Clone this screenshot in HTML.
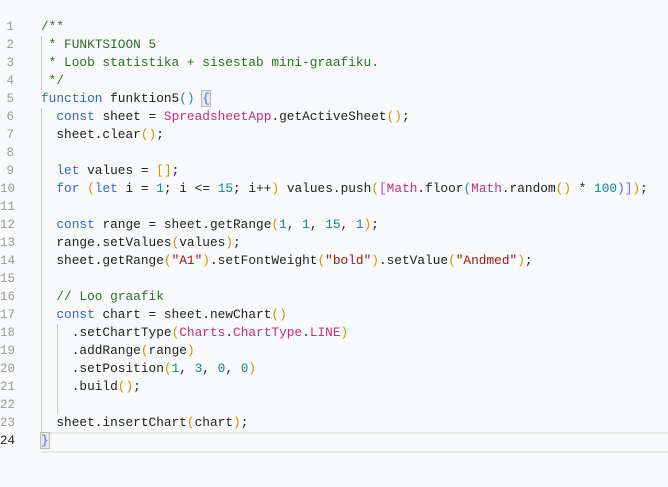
<!DOCTYPE html>
<html><head><meta charset="utf-8"><style>
html,body{margin:0;padding:0;background:#f8f9fa;width:668px;height:487px;overflow:hidden}
.ed{position:relative;font-family:"Liberation Mono",monospace;font-size:12.8px;color:#212121}
.l{position:absolute;left:0;height:18px;line-height:18px;white-space:pre}
.n{position:absolute;left:0;width:14px;text-align:right;color:#9a9a9a;font-size:12.5px}
.c{position:absolute;left:41px}
.cm{color:#2f6b2a}.k{color:#3367c7}.m{color:#c2307d}.s{color:#a31515}.num{color:#0b8a8a}
.b1{color:#c49a00}.b2{color:#a34fc0}.b3{color:#3b73e0}
.g{position:absolute;width:1px;background:#c8c8c8}
.cur{position:absolute;left:41px;right:0;top:432px;height:17px;border-top:2px solid #e8e8e8;border-bottom:2px solid #e8e8e8}
.bm{outline:1px solid #b9b9b9;background:#e8e8e8}
</style></head><body><div class="ed">
<div class="cur"></div>
<div class="g" style="left:41px;top:36px;height:54px"></div>
<div class="g" style="left:41px;top:108px;height:324px"></div>
<div class="g" style="left:57px;top:324px;height:90px"></div>
<div class="l" style="top:18px"><span class="n">1</span><span class="c cm">/**</span></div>
<div class="l" style="top:36px"><span class="n">2</span><span class="c cm"> * FUNKTSIOON 5</span></div>
<div class="l" style="top:54px"><span class="n">3</span><span class="c cm"> * Loob statistika + sisestab mini-graafiku.</span></div>
<div class="l" style="top:72px"><span class="n">4</span><span class="c cm"> */</span></div>
<div class="l" style="top:90px"><span class="n">5</span><span class="c"><span class="k">function</span> funktion5<span class="b3">()</span> <span class="b3 bm">{</span></span></div>
<div class="l" style="top:108px"><span class="n">6</span><span class="c">  <span class="k">const</span> sheet = <span class="m">SpreadsheetApp</span>.getActiveSheet<span class="b1">()</span>;</span></div>
<div class="l" style="top:126px"><span class="n">7</span><span class="c">  sheet.clear<span class="b1">()</span>;</span></div>
<div class="l" style="top:144px"><span class="n">8</span></div>
<div class="l" style="top:162px"><span class="n">9</span><span class="c">  <span class="k">let</span> values = <span class="b1">[]</span>;</span></div>
<div class="l" style="top:180px"><span class="n">10</span><span class="c">  <span class="k">for</span> <span class="b1">(</span><span class="k">let</span> i = <span class="num">1</span>; i &lt;= <span class="num">15</span>; i++<span class="b1">)</span> values.push<span class="b1">(</span><span class="b2">[</span><span class="m">Math</span>.floor<span class="b3">(</span><span class="m">Math</span>.random<span class="b1">()</span> * <span class="num">100</span><span class="b3">)</span><span class="b2">]</span><span class="b1">)</span>;</span></div>
<div class="l" style="top:198px"><span class="n">11</span></div>
<div class="l" style="top:216px"><span class="n">12</span><span class="c">  <span class="k">const</span> range = sheet.getRange<span class="b1">(</span><span class="num">1</span>, <span class="num">1</span>, <span class="num">15</span>, <span class="num">1</span><span class="b1">)</span>;</span></div>
<div class="l" style="top:234px"><span class="n">13</span><span class="c">  range.setValues<span class="b1">(</span>values<span class="b1">)</span>;</span></div>
<div class="l" style="top:252px"><span class="n">14</span><span class="c">  sheet.getRange<span class="b1">(</span><span class="s">"A1"</span><span class="b1">)</span>.setFontWeight<span class="b1">(</span><span class="s">"bold"</span><span class="b1">)</span>.setValue<span class="b1">(</span><span class="s">"Andmed"</span><span class="b1">)</span>;</span></div>
<div class="l" style="top:270px"><span class="n">15</span></div>
<div class="l" style="top:288px"><span class="n">16</span><span class="c">  <span class="cm">// Loo graafik</span></span></div>
<div class="l" style="top:306px"><span class="n">17</span><span class="c">  <span class="k">const</span> chart = sheet.newChart<span class="b1">()</span></span></div>
<div class="l" style="top:324px"><span class="n">18</span><span class="c">    .setChartType<span class="b1">(</span><span class="m">Charts</span>.<span class="m">ChartType</span>.<span class="m">LINE</span><span class="b1">)</span></span></div>
<div class="l" style="top:342px"><span class="n">19</span><span class="c">    .addRange<span class="b1">(</span>range<span class="b1">)</span></span></div>
<div class="l" style="top:360px"><span class="n">20</span><span class="c">    .setPosition<span class="b1">(</span><span class="num">1</span>, <span class="num">3</span>, <span class="num">0</span>, <span class="num">0</span><span class="b1">)</span></span></div>
<div class="l" style="top:378px"><span class="n">21</span><span class="c">    .build<span class="b1">()</span>;</span></div>
<div class="l" style="top:396px"><span class="n">22</span></div>
<div class="l" style="top:414px"><span class="n">23</span><span class="c">  sheet.insertChart<span class="b1">(</span>chart<span class="b1">)</span>;</span></div>
<div class="l" style="top:432px"><span class="n" style="color:#222">24</span><span class="c"><span class="b3 bm">}</span></span></div>
</div></body></html>
